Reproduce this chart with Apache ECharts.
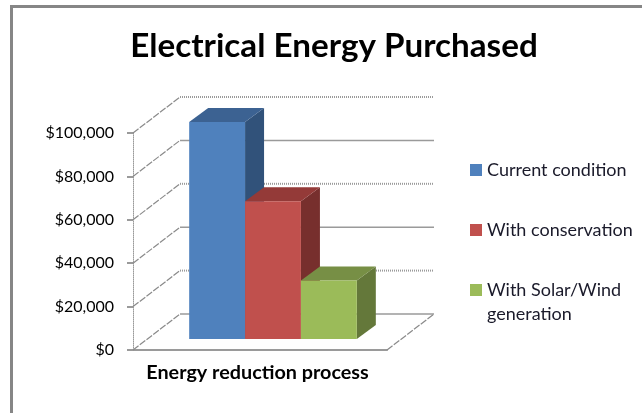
<!DOCTYPE html>
<html>
<head>
<meta charset="utf-8">
<title>Electrical Energy Purchased</title>
<script src="https://cdn.jsdelivr.net/npm/echarts@6/dist/echarts.min.js"></script>
<style>
  html, body { margin: 0; padding: 0; background: #fff; }
  #main { width: 642px; height: 413px; }
</style>
</head>
<body>
<div id="main"></div>
<script>
const categories = ['Energy reduction process'];
const seriesNames = ['Current condition', 'With conservation', 'With Solar/Wind generation'];
const seriesValues = [100000, 63500, 27000];
const wallTicks = [0, 20000, 40000, 60000, 80000, 100000];

const frontColors = ['#4f81bd', '#c0504d', '#9bbb59'];
const topColors = ['#3c6292', '#943a38', '#778f45'];
const sideColors = ['#31527a', '#772f2d', '#64783a'];
const legendTops = [158, 218, 254];

const gridLine = '#9a9a9a';
const fontName = 'Lato, "Noto Sans", sans-serif';

// fake 3d: depth of the whole floor, and of one bar
const wallDx = 47, wallDy = 36;
const barDx = 19, barDy = 14;
const planeDx = 13, planeDy = 11;

const chart = echarts.init(document.getElementById('main'));

// back wall, left wall and floor lines
function renderWall(params, api) {
  const p = api.coord([api.value(0), api.value(1)]);
  const w = api.size([1, 0])[0];
  const left = p[0] - w / 2;
  const dash = params.dataIndex % 2 === 1 ? [1, 1] : null;
  const children = [{
    type: 'line',
    shape: { x1: left, y1: p[1], x2: left + wallDx, y2: p[1] - wallDy },
    style: { stroke: '#8a8a8a', lineWidth: 1.2, lineDash: [7, 1.5] }
  }, {
    type: 'line',
    shape: { x1: left + wallDx, y1: p[1] - wallDy, x2: left + wallDx + w, y2: p[1] - wallDy },
    style: { stroke: gridLine, lineWidth: dash ? 2 : 1.5, lineDash: dash }
  }];
  if (params.dataIndex === 0) {
    children.push({
      type: 'line',
      shape: { x1: left + w, y1: p[1], x2: left + w + wallDx, y2: p[1] - wallDy },
      style: { stroke: '#8a8a8a', lineWidth: 1.2, lineDash: [7, 1.5] }
    });
  }
  return { type: 'group', silent: true, children: children };
}

function renderBar(index) {
  return function (params, api) {
    const top = api.coord([api.value(0), api.value(1)]);
    const base = api.coord([api.value(0), 0]);
    const w = api.size([1, 0])[0] * 0.22;
    const x = top[0] + planeDx + (index - 1.5) * w;
    const yTop = top[1] - planeDy;
    const yBase = base[1] - planeDy;
    return {
      type: 'group',
      children: [{
        type: 'polygon',
        shape: { points: [[x + w, yTop], [x + w + barDx, yTop - barDy], [x + w + barDx, yBase - barDy], [x + w, yBase]] },
        style: { fill: sideColors[index] }
      }, {
        type: 'polygon',
        shape: { points: [[x, yTop], [x + barDx, yTop - barDy], [x + w + barDx, yTop - barDy], [x + w, yTop]] },
        style: { fill: topColors[index] }
      }, {
        type: 'rect',
        shape: { x: x, y: yTop, width: w, height: yBase - yTop },
        style: { fill: frontColors[index] }
      }]
    };
  };
}

const barSeries = seriesNames.map(function (name, i) {
  return {
    name: name,
    type: 'custom',
    renderItem: renderBar(i),
    itemStyle: { color: frontColors[i] },
    encode: { x: 0, y: 1 },
    data: [[categories[0], seriesValues[i]]],
    z: 3 + i
  };
});

chart.setOption({
  animation: false,
  backgroundColor: '#fff',
  title: {
    text: 'Electrical Energy Purchased',
    left: 329,
    top: 25,
    textAlign: 'center',
    textStyle: { fontFamily: fontName, fontSize: 33.2, fontWeight: 'bold', color: '#000' }
  },
  legend: seriesNames.map(function (name, i) {
    return {
      data: [name],
      icon: 'rect',
      orient: 'vertical',
      left: 470,
      top: legendTops[i],
      padding: 0,
      itemWidth: 12,
      itemHeight: 12,
      itemGap: 5,
      selectedMode: false,
      // blank first line keeps the swatch level with the top line of the wrapped name
      formatter: i === 2 ? '\nWith Solar/Wind\ngeneration' : '{name}',
      textStyle: { fontFamily: fontName, fontSize: 18, color: '#1a1a2a', lineHeight: 24 }
    };
  }),
  grid: { left: 133, top: 133, width: 254, height: 217 },
  xAxis: {
    type: 'category',
    data: categories,
    axisTick: { show: false },
    axisLine: { lineStyle: { color: gridLine, width: 2 } },
    axisLabel: { margin: 13, padding: [0, 5, 0, 0], fontFamily: fontName, fontSize: 19.8, fontWeight: 'bold', color: '#000' }
  },
  yAxis: {
    type: 'value',
    min: 0,
    max: 100000,
    interval: 20000,
    axisLine: { show: true, lineStyle: { color: gridLine, type: [1, 1] } },
    axisTick: { show: true, length: 6, lineStyle: { color: gridLine, width: 2 } },
    splitLine: { show: false },
    axisLabel: {
      margin: 19,
      padding: [2, 0, 0, 0],
      fontFamily: fontName,
      fontSize: 16,
      color: '#000',
      formatter: function (v) { return '$' + v.toLocaleString('en-US'); }
    }
  },
  series: [{
    type: 'custom',
    renderItem: renderWall,
    encode: { x: 0, y: 1 },
    data: wallTicks.map(function (t) { return [categories[0], t]; }),
    silent: true,
    z: 1
  }].concat(barSeries),
  graphic: [{
    type: 'rect',
    shape: { x: 11.5, y: 6.5, width: 800, height: 600 },
    style: { fill: 'none', stroke: '#868686', lineWidth: 3 },
    silent: true
  }]
});
</script>
</body>
</html>
